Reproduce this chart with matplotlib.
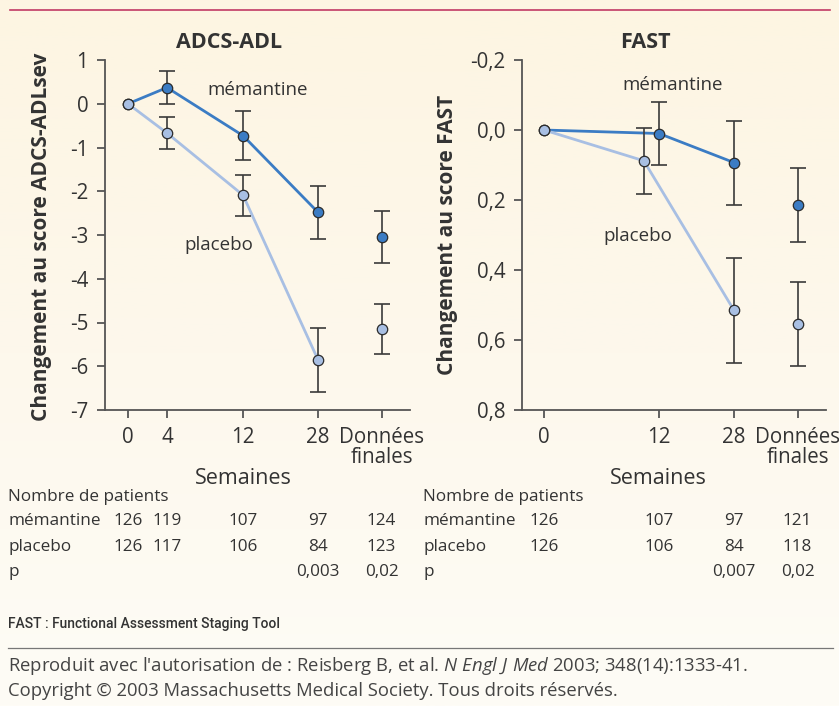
import numpy as np
import matplotlib
matplotlib.use("Agg")
import matplotlib.pyplot as plt
import matplotlib.transforms as mtransforms
from matplotlib.colors import LinearSegmentedColormap

plt.rcParams['font.family'] = ['Open Sans', 'DejaVu Sans']
plt.rcParams['mathtext.fontset'] = 'custom'
plt.rcParams['mathtext.rm'] = 'Open Sans'
plt.rcParams['mathtext.it'] = 'Open Sans:italic'

# ---- data ----
adl_weeks = ['0', '4', '12', '28', 'Données\nfinales']
adl_mem = [0.0, 0.37, -0.73, -2.48, -3.04]
adl_mem_err = [0.0, 0.38, 0.56, 0.60, 0.59]
adl_pla = [0.0, -0.67, -2.09, -5.85, -5.15]
adl_pla_err = [0.0, 0.37, 0.47, 0.73, 0.57]

fast_weeks = ['0', '12', '28', 'Données\nfinales']
fast_mem = [0.0, 0.01, 0.093, 0.214]
fast_mem_err = [0.0, 0.09, 0.12, 0.105]
fast_pla = [0.0, 0.088, 0.515, 0.555]
fast_pla_err = [0.0, 0.095, 0.15, 0.12]

adl_n_mem = ['126', '119', '107', '97', '124']
adl_n_pla = ['126', '117', '106', '84', '123']
adl_p = ['', '', '', '0,003', '0,02']
fast_n_mem = ['126', '107', '97', '121']
fast_n_pla = ['126', '106', '84', '118']
fast_p = ['', '', '0,007', '0,02']

# x layout positions (categorical spacing as in the figure)
adl_x = [0, 1, 2.95, 4.87, 6.5]
fast_x = [0, 2.95, 4.87, 6.5]
fast_pla_x = [0, 2.56, 4.87, 6.5]

C_MEM = '#3b7cc4'
C_PLA = '#a8bfe3'
C_TXT = '#333333'
C_AX = '#555555'
C_ERR = '#3a3a3a'

W, H = 839, 706
fig = plt.figure(figsize=(W / 100, H / 100), dpi=100)

# background gradient
bg = fig.add_axes([0, 0, 1, 1], zorder=-10)
cmap = LinearSegmentedColormap.from_list('bg', ['#fdf5e2', '#fdf8ec', '#fefcf6'])
bg.imshow(np.linspace(0, 1, 256).reshape(-1, 1), aspect='auto', cmap=cmap,
          extent=[0, 1, 0, 1])
bg.axis('off')

def fx(px):
    return px / W

def fy(py):
    return 1 - py / H

# top rule
fig.add_artist(plt.Line2D([fx(10), fx(830)], [fy(9.5), fy(9.5)], color='#c23a64', lw=1.2))

TICK_FS = 14.8
LAB_FS = 13.5


def setup(ax, xpos, labels, ylim, yticks, yticklabels):
    ax.set_facecolor('none')
    for s in ['top', 'right']:
        ax.spines[s].set_visible(False)
    for s in ['left', 'bottom']:
        ax.spines[s].set_color(C_AX)
        ax.spines[s].set_linewidth(1.3)
    ax.set_ylim(*ylim)
    ax.set_yticks(yticks)
    ax.set_yticklabels(yticklabels)
    ax.set_xticks(xpos)
    ax.set_xticklabels(labels, linespacing=0.95)
    ax.tick_params(axis='both', colors=C_AX, labelcolor=C_TXT, labelsize=TICK_FS,
                   length=6, width=1.3, direction='out')
    ax.tick_params(axis='x', pad=6)
    ax.tick_params(axis='y', pad=6)


def draw_series(ax, x, y, err, color, nline):
    ax.plot(x[:nline], y[:nline], color=color, lw=2.0, zorder=2)
    ax.errorbar(x[1:], y[1:], yerr=err[1:], fmt='none', ecolor=C_ERR,
                elinewidth=1.2, capsize=5.5, capthick=1.2, zorder=3)
    ax.plot(x, y, 'o', ms=7.5, mfc=color, mec='#2b2b2b', mew=0.9, zorder=4)


# ---- left panel ----
ax1 = fig.add_axes([fx(105), fy(410), fx(410) - fx(105), fy(60) - fy(410)])
ax1.set_xlim(-0.59, 7.23)
setup(ax1, adl_x, adl_weeks, (-7, 1), range(-7, 2), [str(v) for v in range(-7, 2)])
draw_series(ax1, adl_x, adl_mem, adl_mem_err, C_MEM, 4)
draw_series(ax1, adl_x, adl_pla, adl_pla_err, C_PLA, 4)
fig.text(fx(258), fy(90), 'mémantine', ha='center', va='center', fontsize=LAB_FS, color=C_TXT)
fig.text(fx(219), fy(245), 'placebo', ha='center', va='center', fontsize=LAB_FS, color=C_TXT)

# ---- right panel ----
ax2 = fig.add_axes([fx(522), fy(410), fx(826) - fx(522), fy(60) - fy(410)])
ax2.set_xlim(-0.564, 7.23)
fticks = [-0.2, 0.0, 0.2, 0.4, 0.6, 0.8]
setup(ax2, fast_x, fast_weeks, (0.8, -0.2), fticks,
      [f'{v:.1f}'.replace('.', ',') for v in fticks])
draw_series(ax2, fast_x, fast_mem, fast_mem_err, C_MEM, 3)
draw_series(ax2, fast_pla_x, fast_pla, fast_pla_err, C_PLA, 3)
fig.text(fx(673), fy(85), 'mémantine', ha='center', va='center', fontsize=LAB_FS, color=C_TXT)
fig.text(fx(638), fy(236), 'placebo', ha='center', va='center', fontsize=LAB_FS, color=C_TXT)

# titles and axis labels
fig.text(fx(229), fy(42), 'ADCS-ADL', ha='center', va='center', fontsize=15.5,
         fontweight='bold', color=C_TXT)
fig.text(fx(645), fy(42), 'FAST', ha='center', va='center', fontsize=15.5,
         fontweight='bold', color=C_TXT)
fig.text(fx(42), fy(237), 'Changement au score ADCS-ADLsev', rotation=90, ha='center',
         va='center', fontsize=15, fontweight='bold', color=C_TXT)
fig.text(fx(447), fy(235), 'Changement au score FAST', rotation=90, ha='center',
         va='center', fontsize=15, fontweight='bold', color=C_TXT)
fig.text(fx(243), fy(478), 'Semaines', ha='center', va='center', fontsize=15.5, color=C_TXT)
fig.text(fx(658), fy(478), 'Semaines', ha='center', va='center', fontsize=15.5, color=C_TXT)

# ---- patient tables ----
rows_y = [497, 521, 547, 572]


def table(ax, x0, xpos, n_mem, n_pla, pvals):
    tr = mtransforms.blended_transform_factory(ax.transData, fig.transFigure)
    kw = dict(fontsize=12.3, color=C_TXT, va='center')
    fig.text(fx(x0), fy(rows_y[0]), 'Nombre de patients', **kw)
    fig.text(fx(x0), fy(rows_y[1]), 'mémantine', **kw)
    fig.text(fx(x0), fy(rows_y[2]), 'placebo', **kw)
    fig.text(fx(x0), fy(rows_y[3]), 'p', **kw)
    for x, a, b, p in zip(xpos, n_mem, n_pla, pvals):
        ax.text(x, fy(rows_y[1]), a, transform=tr, ha='center', **kw)
        ax.text(x, fy(rows_y[2]), b, transform=tr, ha='center', **kw)
        ax.text(x, fy(rows_y[3]), p, transform=tr, ha='center', **kw)


table(ax1, 8, adl_x, adl_n_mem, adl_n_pla, adl_p)
table(ax2, 423, fast_x, fast_n_mem, fast_n_pla, fast_p)

# ---- footer ----
fig.text(fx(8), fy(624), 'FAST : Functional Assessment Staging Tool', fontsize=10,
         family=['Roboto', 'DejaVu Sans'], fontweight='medium', color=C_TXT, va='center')
fig.add_artist(plt.Line2D([fx(8), fx(833)], [fy(648), fy(648)], color='#777777', lw=0.9))
fig.text(fx(8), fy(666), "Reproduit avec l'autorisation de : Reisberg B, et al. "
         r"$\mathit{N\ Engl\ J\ Med}$ 2003; 348(14):1333-41.",
         fontsize=13.3, color='#444444', va='center')
fig.text(fx(8), fy(691), 'Copyright © 2003 Massachusetts Medical Society. Tous droits réservés.',
         fontsize=13.3, color='#444444', va='center')

fig.savefig('out.png', dpi=100)
